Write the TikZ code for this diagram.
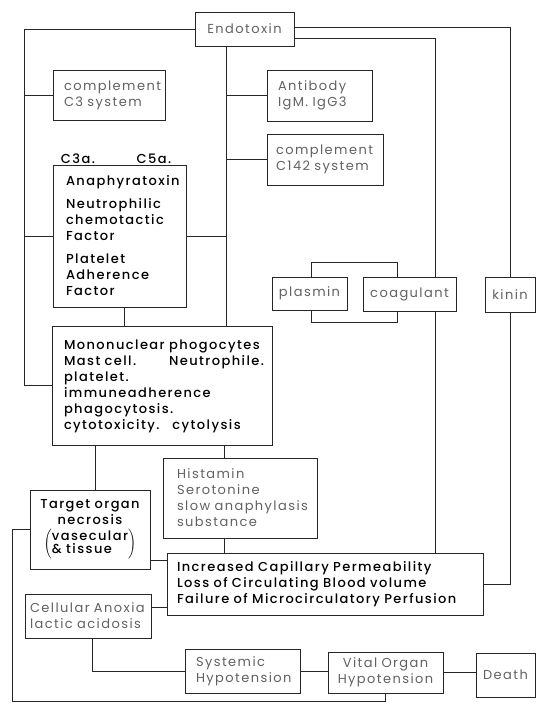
\documentclass[tikz,border=0pt]{standalone}
\usepackage{fontspec}
\setmainfont{Poppins}[BoldFont={Poppins Medium},LetterSpace=11]
\hyphenpenalty=10000
\exhyphenpenalty=10000
\begin{document}
\begin{tikzpicture}[x=1pt,y=-1pt,
  line width=0.9pt, draw=black!85,
  box/.style={draw=black!85, line width=0.9pt, rectangle, inner ysep=0pt},
  lt/.style={text=black!62, font=\fontsize{13}{16}\selectfont},
  bd/.style={text=black, font=\fontsize{13}{16}\selectfont\bfseries},
  wire/.style={draw=black!85, line width=0.9pt}]
\useasboundingbox (0,0) rectangle (536,703);
% nodes
\node[box,lt,minimum width=99pt,minimum height=34pt] (endo) at (244.5,29) {Endotoxin};
\node[box,lt,align=left,inner xsep=11pt,text width=90pt,minimum height=50pt] (c3) at (109,95) {complement\\C3 system};
\node[box,lt,align=left,inner xsep=11pt,text width=83pt,minimum height=51pt] (ab) at (319.5,95.5) {Antibody\\IgM.\ IgG3};
\node[box,lt,align=left,inner xsep=9pt,text width=98pt,minimum height=51pt] (c142) at (325,159.5) {complement\\C142 system};
\node[bd] (c3a) at (78,159) {C3a.};
\node[bd] (c5a) at (154,159) {C5a.};
\node[box,bd,align=left,inner xsep=13pt,text width=107pt,minimum height=142pt] (ana) at (119.5,236) {Anaphyratoxin\\[7pt]Neutrophilic\\chemotactic\\Factor\\[7pt]Platelet\\Adherence\\Factor};
\node[box,bd,align=left,inner xsep=12pt,text width=196pt,minimum height=119pt] (mono) at (162,385.5) {\mbox{\begin{tabular}{@{}l@{\ }l@{}}Mononuclear&phogocytes\\Mast cell.&Neutrophile.\end{tabular}}\\platelet.\\immuneadherence\\phagocytosis.\\\mbox{cytotoxicity.\quad cytolysis}};
\node[box,lt,minimum width=75pt,minimum height=33pt] (plasmin) at (309.5,293.5) {plasmin};
\node[box,lt,minimum width=93pt,minimum height=34pt] (coag) at (409.5,294) {coagulant};
\node[box,lt,minimum width=50pt,minimum height=35pt] (kinin) at (510,294.5) {kinin};
\node[box,lt,align=left,inner xsep=14pt,text width=126pt,minimum height=80pt] (hist) at (240,498) {Histamin\\Serotonine\\\mbox{slow anaphylasis}\\substance};
\node[box,bd,align=center,inner xsep=2pt,text width=116pt,minimum height=79pt] (target) at (90,529.5) {Target organ\\necrosis\\[3pt]$\left(\mbox{\begin{tabular}{@{}l@{}}vasecular\\[-3pt]\& tissue\end{tabular}}\right)$};
\node[box,bd,align=left,inner xsep=10pt,text width=296pt,minimum height=62pt] (incr) at (325,584) {Increased Capillary Permeability\\Loss of Circulating Blood volume\\Failure of Microcirculatory Perfusion};
\node[box,lt,align=left,inner xsep=5pt,text width=116pt,minimum height=44pt] (cell) at (88,616) {Cellular Anoxia\\lactic acidosis};
\node[box,lt,align=left,inner xsep=11pt,text width=93pt,minimum height=44pt] (sys) at (242.5,671) {Systemic\\Hypotension};
\node[box,lt,align=center,inner xsep=2pt,text width=111pt,minimum height=41pt] (vital) at (385.5,672.5) {Vital Organ\\Hypotension};
\node[box,lt,minimum width=59pt,minimum height=44pt] (death) at (505.5,675) {Death};
% helper coordinates
\coordinate (L) at (24,0);
\coordinate (C) at (226,0);
\coordinate (K) at (435,0);
\coordinate (P1) at (311,0);
\coordinate (P2) at (397,0);
\coordinate (A) at (124,0);
\coordinate (T) at (95,0);
\coordinate (H) at (224,0);
\coordinate (CX) at (92,0);
\coordinate (ty) at (0,560);
\coordinate (cy) at (0,607);
\coordinate (B) at (12,701);
% connectors
\draw[wire] (endo.west) -| (L |- mono.west) -- (mono.west);
\draw[wire] (L |- c3.west) -- (c3.west);
\draw[wire] (L |- ana.west) -- (ana.west);
\draw[wire] (C |- endo.south) -- (C |- mono.north);
\draw[wire] (C |- ab.west) -- (ab.west);
\draw[wire] (C |- c142.west) -- (c142.west);
\draw[wire] (C |- ana.east) -- (ana.east);
\draw[wire] ([yshift=2pt]endo.east) -| (kinin.north);
\draw[wire] ([yshift=-9pt]endo.east) -| (K |- coag.north);
\draw[wire] (K |- coag.south) -- (K |- incr.north);
\draw[wire] (kinin.south) |- (incr.east);
\draw[wire] (P1 |- plasmin.north) -- ++(0,-14) -| (P2 |- coag.north);
\draw[wire] (P1 |- plasmin.south) -- ++(0,12) -| (P2 |- coag.south);
\draw[wire] (A |- ana.south) -- (A |- mono.north);
\draw[wire] (T |- mono.south) -- (T |- target.north);
\draw[wire] (H |- mono.south) -- (H |- hist.north);
\draw[wire] (H |- hist.south) -- (H |- incr.north);
\draw[wire] (target.east |- ty) -- (incr.west |- ty);
\draw[wire] (cell.east |- cy) -- (incr.west |- cy);
\draw[wire] (target.west) -| (B) -| (vital.south);
\draw[wire] (CX |- cell.south) |- (sys.west);
\draw[wire] (sys.east) -- (sys.east -| vital.west);
\draw[wire] (vital.east) -- (vital.east -| death.west);
\end{tikzpicture}
\end{document}
